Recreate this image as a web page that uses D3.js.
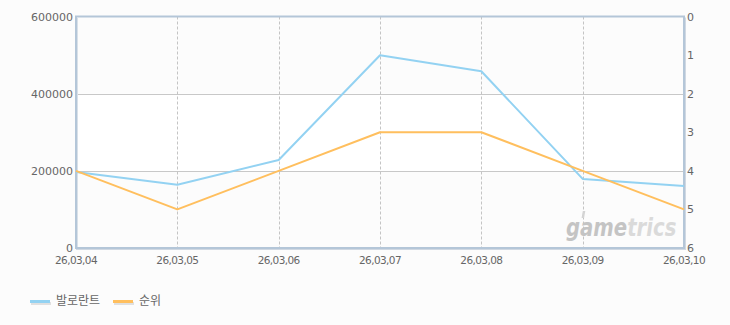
<!DOCTYPE html>
<html><head><meta charset="utf-8">
<script src="https://cdn.jsdelivr.net/npm/d3@7"></script>
<style>
html,body{margin:0;padding:0;background:#fcfcfc;}
svg{display:block;font-family:"DejaVu Sans",sans-serif;}
</style></head>
<body><svg id="c" width="730" height="325"></svg>
<script>
const categories = ["26,03,04","26,03,05","26,03,06","26,03,07","26,03,08","26,03,09","26,03,10"];
const valorantValues = [197000,164000,228000,499500,458000,179000,161000];
const rankValues = [4,5,4,3,3,4,5];
const leftTicks = [0,200000,400000,600000];
const rightTicks = [0,1,2,3,4,5,6];
const seriesNames = ["발로란트","순위"];
const colors = ["#93d2f2","#ffbf5e"];

const svg = d3.select("#c");
const L=76, R=684, T=16.5, B=248;
const x = d3.scalePoint().domain(categories).range([L,R]);
const yL = d3.scaleLinear().domain([0,600000]).range([B,T]);
const yR = d3.scaleLinear().domain([0,6]).range([T,B]);

// watermark gradient
const defs = svg.append("defs");
const g = defs.append("linearGradient").attr("id","wmg").attr("gradientUnits","objectBoundingBox")
  .attr("x1",0).attr("x2",1).attr("y1",0).attr("y2",0);
g.append("stop").attr("offset","0.56").attr("stop-color","#c4c4c4");
g.append("stop").attr("offset","0.56").attr("stop-color","#dadada");

// bands
const bandEdges = [[400000,600000,"#fcfcfc"],[200000,400000,"#ffffff"],[0,200000,"#fcfcfc"]];
svg.selectAll("rect.band").data(bandEdges).enter().append("rect")
  .attr("x",L).attr("width",R-L).attr("y",d=>yL(d[1])).attr("height",d=>yL(d[0])-yL(d[1]))
  .attr("fill",d=>d[2]);

// horizontal grid
svg.selectAll("line.hg").data([200000,400000]).enter().append("line")
  .attr("x1",L).attr("x2",R).attr("y1",d=>Math.round(yL(d))+0.5).attr("y2",d=>Math.round(yL(d))+0.5)
  .attr("stroke","#c8c8c8").attr("stroke-width",1);
// vertical dashed grid
svg.selectAll("line.vg").data(categories.slice(1,-1)).enter().append("line")
  .attr("x1",d=>Math.round(x(d))+0.5).attr("x2",d=>Math.round(x(d))+0.5).attr("y1",T).attr("y2",B)
  .attr("stroke","#c4c4c4").attr("stroke-dasharray","3,2").attr("stroke-width",1);

// frame
svg.append("rect").attr("x",L).attr("y",T).attr("width",R-L).attr("height",B-T)
  .attr("fill","none").attr("stroke","#b4c6d8").attr("stroke-width",2);
svg.append("line").attr("x1",L+1.5).attr("x2",L+1.5).attr("y1",T+1).attr("y2",B-1).attr("stroke","#d8e0e8").attr("stroke-width",1);
svg.append("line").attr("x1",R+1.5).attr("x2",R+1.5).attr("y1",T+1).attr("y2",B+1).attr("stroke","#d0d8e2").attr("stroke-width",1);
svg.append("line").attr("x1",L).attr("x2",R+2).attr("y1",B+1.5).attr("y2",B+1.5).attr("stroke","#d0d8e2").attr("stroke-width",1);

// watermark
svg.append("text").attr("transform","translate(566,236) scale(0.82,1)").attr("font-family","'DejaVu Sans',sans-serif")
  .attr("font-size",24).attr("font-weight","bold").attr("font-style","italic")
  .attr("fill","url(#wmg)").text("gametrics");
svg.append("rect").attr("x",620).attr("y",211).attr("width",2.5).attr("height",7).attr("fill","#d4d4d4").attr("transform","skewX(-10)");

// axis labels
svg.selectAll("text.yl").data(leftTicks).enter().append("text")
  .attr("x",73).attr("y",d=>yL(d)+4).attr("text-anchor","end")
  .attr("font-size",11).attr("fill","#666").text(d=>d);
svg.selectAll("text.yr").data(rightTicks).enter().append("text")
  .attr("x",687).attr("y",d=>yR(d)+4).attr("text-anchor","start")
  .attr("font-size",11).attr("fill","#666").text(d=>d);
svg.selectAll("text.xl").data(categories).enter().append("text")
  .attr("x",d=>x(d)).attr("y",264).attr("text-anchor","middle")
  .attr("font-size",10.5).attr("fill","#666").attr("letter-spacing",-0.6).text(d=>d);

// lines
const lineL = d3.line().x((d,i)=>x(categories[i])).y(d=>yL(d));
const lineR = d3.line().x((d,i)=>x(categories[i])).y(d=>yR(d));
svg.append("path").datum(valorantValues).attr("d",lineL).attr("fill","none")
  .attr("stroke",colors[0]).attr("stroke-width",2).attr("stroke-linejoin","round");
svg.append("path").datum(rankValues).attr("d",lineR).attr("fill","none")
  .attr("stroke",colors[1]).attr("stroke-width",2).attr("stroke-linejoin","round");

// legend
const lg = svg.selectAll("g.lg").data(seriesNames).enter().append("g")
  .attr("transform",(d,i)=>`translate(${[30,113][i]},0)`);
lg.append("rect").attr("x",1).attr("y",302).attr("width",20).attr("height",3).attr("fill","#e0e0e0");
lg.append("rect").attr("x",0).attr("y",300).attr("width",20).attr("height",3).attr("fill",(d,i)=>colors[i]);
lg.append("text").attr("x",26).attr("y",305).attr("font-size",12).attr("fill","#666")
  .attr("font-family","'Noto Sans CJK KR',sans-serif").text(d=>d);
</script></body></html>
